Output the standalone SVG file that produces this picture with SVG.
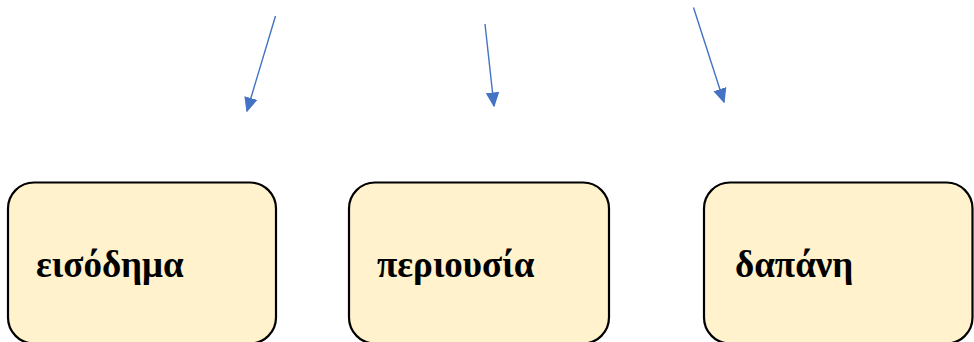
<svg xmlns="http://www.w3.org/2000/svg" width="974" height="342" viewBox="0 0 974 342">
<defs>
<style>
.box{fill:#FFF2CC;stroke:#000;stroke-width:2.2}
.lbl{font-family:"Liberation Serif","Times New Roman",serif;font-weight:bold;font-size:37px;fill:#000}
.arr{stroke:#4472C4;stroke-width:1.4;fill:none;marker-end:url(#ah)}
</style>
<marker id="ah" viewBox="0 0 10 10" refX="9" refY="5" markerWidth="15" markerHeight="15" markerUnits="userSpaceOnUse" orient="auto">
<path d="M0,0.5 L10,5 L0,9.5 z" fill="#4472C4"/>
</marker>
</defs>
<rect width="974" height="342" fill="#fff"/>
<g id="connectors">
<line class="arr" x1="275.5" y1="16" x2="247" y2="111"/>
<line class="arr" x1="485" y1="24" x2="494" y2="106"/>
<line class="arr" x1="693.5" y1="7.5" x2="724" y2="102"/>
</g>
<g id="node-eisodima">
<rect class="box" x="8" y="182.5" width="268" height="161" rx="26"/>
<text class="lbl" x="36" y="277">εισόδημα</text>
</g>
<g id="node-periousia">
<rect class="box" x="349" y="182.5" width="260" height="161" rx="26"/>
<text class="lbl" x="377" y="277">περιουσία</text>
</g>
<g id="node-dapani">
<rect class="box" x="704" y="182.5" width="268.5" height="161" rx="26"/>
<text class="lbl" x="735" y="277">δαπάνη</text>
</g>
</svg>
